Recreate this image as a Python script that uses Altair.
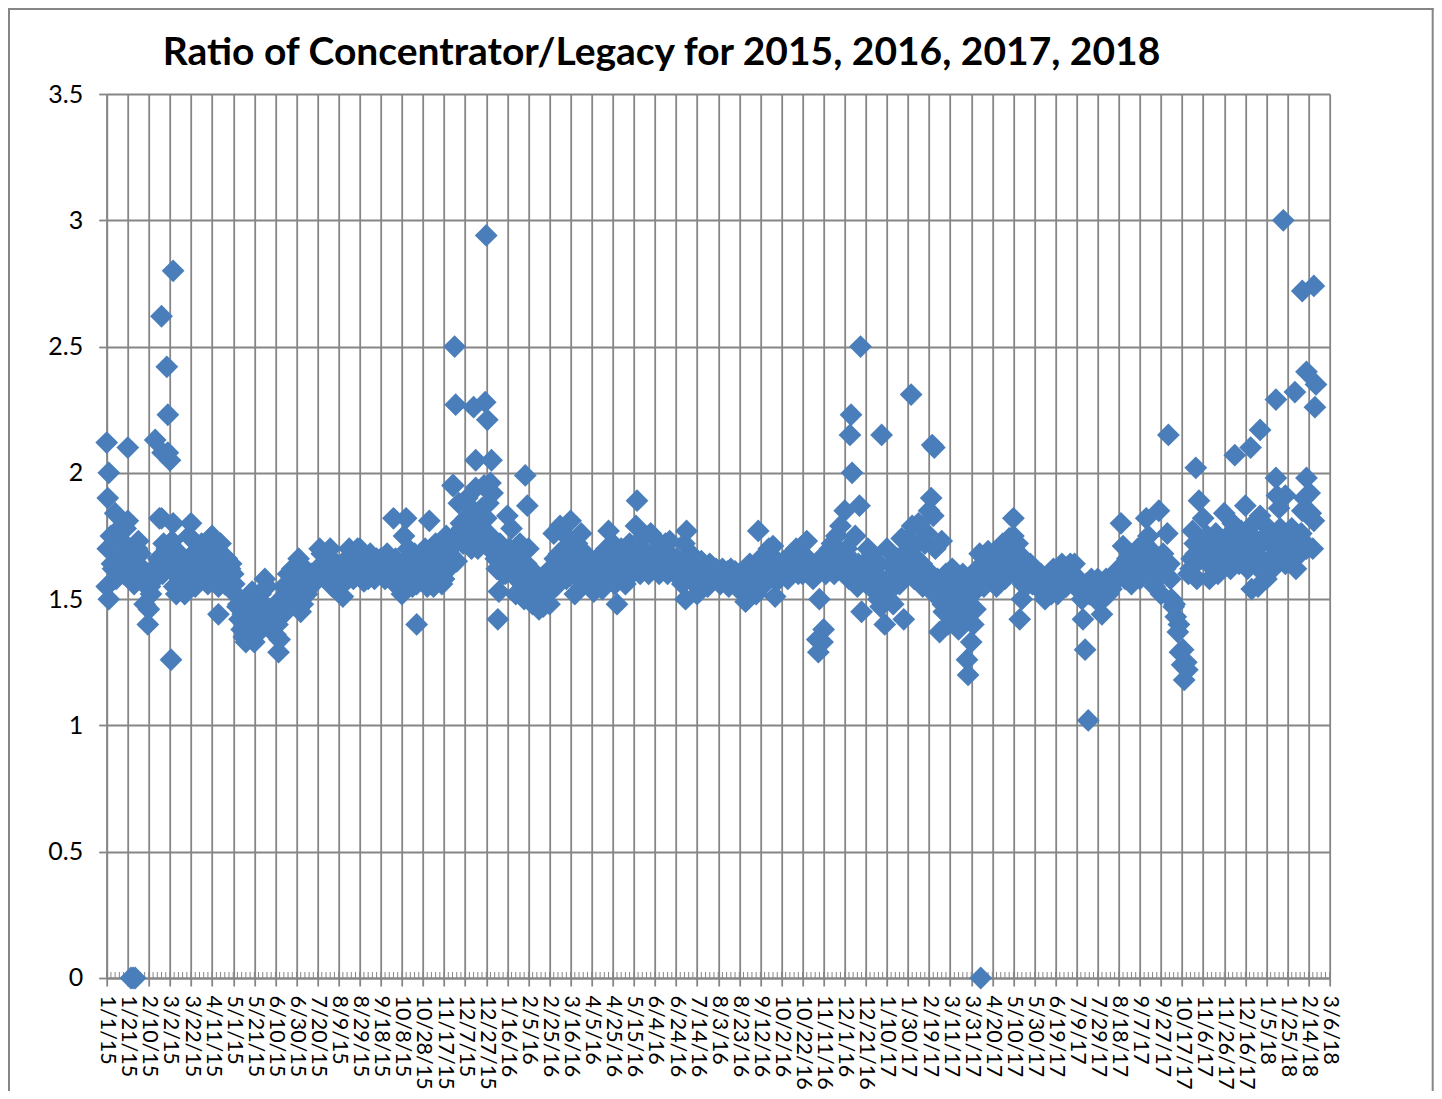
import altair as alt
import pandas as pd

TITLE = "Ratio of Concentrator/Legacy for 2015, 2016, 2017, 2018"
BLUE = "#4a7ebb"
GRID = "#868686"
FONT = "Lato"

# Ratio read every second day from 1/1/15, ten readings per 20-day axis step
band_2015 = [
    1.55,1.50,1.75,1.62,1.84,1.62,1.78,1.68,1.60,1.78,
    1.81,1.58,1.66,1.56,1.60,1.73,1.68,1.62,1.48,1.55,
    1.46,1.52,1.60,1.58,1.62,1.82,1.82,1.72,1.68,1.64,
    1.72,1.73,1.55,1.52,1.60,1.64,1.58,1.52,1.62,1.75,
    1.80,1.68,1.55,1.62,1.70,1.72,1.58,1.65,1.56,1.74,
    1.75,1.60,1.68,1.55,1.72,1.62,1.56,1.66,1.60,1.64,
    1.60,1.52,1.47,1.42,1.38,1.35,1.33,1.40,1.50,1.53,
    1.33,1.36,1.45,1.52,1.40,1.58,1.55,1.46,1.38,1.42,
    1.36,1.40,1.34,1.48,1.55,1.45,1.60,1.52,1.62,1.50,
    1.56,1.66,1.45,1.48,1.62,1.52,1.58,1.60,1.56,1.60,
    1.62,1.70,1.68,1.60,1.58,1.65,1.70,1.55,1.63,1.60,
    1.62,1.55,1.51,1.60,1.66,1.70,1.64,1.58,1.62,1.70,
    1.70,1.60,1.57,1.65,1.58,1.68,1.62,1.58,1.66,1.60,
    1.66,1.60,1.58,1.68,1.62,1.58,1.82,1.66,1.55,1.60,
    1.52,1.75,1.82,1.70,1.60,1.55,1.68,1.56,1.60,1.65,
    1.60,1.70,1.55,1.81,1.62,1.55,1.72,1.60,1.66,1.56,
    1.58,1.75,1.62,1.70,1.95,1.72,1.65,1.88,1.80,1.72,
    1.80,1.90,1.74,1.70,1.85,1.94,1.70,1.78,1.86,1.95,
]
band_2016 = [
    1.82,1.88,1.75,1.92,1.68,1.62,1.53,1.70,1.60,1.60,
    1.83,1.70,1.78,1.60,1.52,1.66,1.72,1.56,1.50,1.64,
    1.70,1.62,1.48,1.56,1.50,1.46,1.55,1.47,1.58,1.52,
    1.48,1.60,1.76,1.55,1.66,1.79,1.62,1.70,1.58,1.74,
    1.81,1.64,1.52,1.72,1.60,1.76,1.56,1.68,1.60,1.55,
    1.58,1.53,1.65,1.60,1.62,1.54,1.56,1.70,1.77,1.60,
    1.72,1.56,1.68,1.60,1.70,1.62,1.56,1.66,1.72,1.60,
    1.68,1.79,1.66,1.60,1.70,1.75,1.62,1.60,1.76,1.66,
    1.74,1.62,1.60,1.70,1.65,1.72,1.60,1.73,1.64,1.66,
    1.65,1.60,1.58,1.56,1.72,1.77,1.60,1.68,1.62,1.56,
    1.52,1.62,1.65,1.56,1.60,1.55,1.64,1.60,1.58,1.62,
    1.60,1.56,1.62,1.58,1.60,1.55,1.62,1.57,1.61,1.58,
    1.60,1.55,1.52,1.49,1.60,1.64,1.55,1.62,1.52,1.77,
    1.66,1.60,1.56,1.64,1.70,1.60,1.71,1.51,1.65,1.58,
    1.60,1.65,1.62,1.58,1.66,1.60,1.63,1.70,1.60,1.66,
    1.60,1.66,1.73,1.60,1.64,1.58,1.60,1.62,1.50,1.62,
    1.62,1.60,1.66,1.70,1.72,1.60,1.75,1.66,1.79,1.62,
    1.85,1.70,1.58,1.65,1.60,1.75,1.55,1.87,1.45,1.64,
]
band_2017 = [
    1.62,1.70,1.55,1.68,1.58,1.60,1.50,1.47,1.55,1.40,
    1.70,1.50,1.55,1.48,1.62,1.66,1.56,1.74,1.42,1.60,
    1.74,1.60,1.79,1.58,1.66,1.80,1.62,1.55,1.72,1.76,
    1.85,1.90,1.83,1.70,1.58,1.37,1.73,1.45,1.60,1.40,
    1.55,1.62,1.45,1.60,1.38,1.50,1.60,1.42,1.26,1.55,
    1.33,1.40,1.46,1.62,1.68,1.58,1.55,1.65,1.69,1.60,
    1.60,1.68,1.55,1.70,1.63,1.72,1.58,1.62,1.74,1.68,
    1.75,1.60,1.72,1.42,1.50,1.66,1.60,1.56,1.64,1.56,
    1.62,1.55,1.58,1.60,1.54,1.50,1.58,1.60,1.52,1.62,
    1.60,1.52,1.56,1.64,1.60,1.55,1.62,1.64,1.58,1.64,
    1.58,1.56,1.54,1.42,1.30,1.55,1.52,1.58,1.56,1.50,
    1.58,1.52,1.44,1.55,1.58,1.52,1.54,1.56,1.60,1.58,
    1.62,1.80,1.71,1.58,1.66,1.60,1.56,1.68,1.62,1.70,
    1.58,1.65,1.72,1.82,1.75,1.60,1.66,1.55,1.62,1.85,
    1.52,1.68,1.62,1.76,1.64,1.50,1.47,1.43,1.37,1.29,
    1.24,1.18,1.25,1.60,1.62,1.77,1.72,1.58,1.89,1.66,
    1.82,1.68,1.75,1.58,1.70,1.62,1.76,1.60,1.72,1.65,
    1.84,1.68,1.75,1.62,1.80,1.66,1.72,1.64,1.77,1.70,
]
band_2018 = [
    1.87,1.62,1.76,1.54,1.80,1.68,1.55,1.83,1.72,1.60,
    1.58,1.78,1.66,1.62,1.72,1.91,1.86,1.68,1.76,1.64,
    1.70,1.66,1.78,1.72,1.62,1.75,1.68,1.85,1.90,1.70,
]

# Odd-day readings in the middle of the band, five per 20-day axis step
mid_readings = [
    1.70,1.64,1.58,1.66,1.72,  1.64,1.60,1.70,1.62,1.58,  1.55,1.62,1.66,1.60,1.70,
    1.66,1.60,1.68,1.62,1.56,  1.66,1.60,1.70,1.64,1.62,  1.68,1.60,1.64,1.58,1.62,
    1.56,1.48,1.44,1.46,1.42,  1.46,1.42,1.48,1.40,1.44,  1.44,1.50,1.46,1.52,1.56,
    1.54,1.58,1.52,1.56,1.60,  1.60,1.64,1.60,1.66,1.62,  1.58,1.62,1.66,1.60,1.64,
    1.64,1.60,1.66,1.62,1.60,  1.62,1.66,1.60,1.64,1.62,  1.64,1.60,1.66,1.60,1.58,
    1.58,1.64,1.62,1.66,1.60,  1.66,1.68,1.72,1.76,1.78,  1.82,1.76,1.84,1.78,1.74,
    1.76,1.70,1.66,1.72,1.64,  1.68,1.62,1.58,1.64,1.60,  1.58,1.54,1.52,1.56,1.60,
    1.62,1.66,1.68,1.60,1.64,  1.66,1.62,1.68,1.60,1.64,  1.60,1.66,1.62,1.58,1.64,
    1.68,1.62,1.66,1.60,1.68,  1.64,1.70,1.62,1.66,1.68,  1.66,1.62,1.68,1.64,1.66,
    1.66,1.60,1.64,1.58,1.62,  1.62,1.58,1.60,1.62,1.60,  1.58,1.60,1.61,1.59,1.60,
    1.60,1.56,1.58,1.62,1.58,  1.60,1.64,1.62,1.58,1.64,  1.62,1.66,1.60,1.64,1.62,
    1.62,1.66,1.60,1.64,1.66,  1.64,1.68,1.62,1.70,1.66,  1.68,1.62,1.60,1.64,1.58,
    1.56,1.62,1.58,1.64,1.56,  1.58,1.64,1.56,1.62,1.66,  1.70,1.66,1.72,1.64,1.62,
    1.58,1.52,1.56,1.48,1.52,  1.56,1.48,1.52,1.46,1.50,  1.52,1.58,1.62,1.60,1.64,
    1.60,1.66,1.62,1.68,1.64,  1.66,1.60,1.56,1.62,1.58,  1.56,1.60,1.56,1.58,1.54,
    1.56,1.60,1.62,1.58,1.60,  1.54,1.50,1.56,1.52,1.54,  1.54,1.50,1.56,1.54,1.58,
    1.60,1.64,1.66,1.62,1.66,  1.62,1.68,1.70,1.64,1.66,  1.60,1.64,1.58,1.48,1.40,
    1.30,1.22,1.66,1.68,1.72,  1.70,1.64,1.72,1.66,1.70,  1.74,1.68,1.72,1.66,1.76,
    1.70,1.64,1.72,1.66,1.74,  1.74,1.66,1.70,1.78,1.72,  1.68,1.74,1.70,1.76,1.72,
]

# Readings that stand clear of the dense band
spike_days = [0,1,2,20,23,25,27,39,46,52,53,57,58,58,60,61,63,63,
              106,163,294,329,330,331,348,350,359,360,361,364,364,365,371,397,399,
              484,503,549,674,675,679,680,705,706,707,715,735,763,783,785,817,829,860,
              931,1007,1033,1070,1085,1094,1109,1109,1116,1118,1127,1134,1138,1138,
              1141,1142,1144,1145,1145,1146,1147]
spike_vals = [2.12,1.90,2.00,2.10,0,0,0,1.40,2.13,2.62,2.08,2.42,2.23,2.08,2.05,1.26,2.80,1.80,
              1.44,1.29,1.40,1.95,2.50,2.27,2.26,2.05,2.28,2.94,2.21,1.96,1.92,2.05,1.42,1.99,1.87,
              1.48,1.89,1.50,1.34,1.29,1.33,1.38,2.15,2.23,2.00,2.50,2.15,2.31,2.11,2.10,1.20,0,1.82,
              1.02,2.15,2.02,2.07,2.10,2.17,2.29,1.98,3.00,1.91,2.32,2.72,2.40,1.98,
              1.92,1.84,1.70,2.74,1.81,2.26,2.35]

x_ticks = list(range(0, 1161, 20))
minor_ticks = list(range(0, 1161, 4))
y_ticks = [0, 0.5, 1, 1.5, 2, 2.5, 3, 3.5]

band = band_2015 + band_2016 + band_2017 + band_2018
points = pd.DataFrame({
    "day": [2 * i for i in range(len(band))]
           + [4 * i + 1 for i in range(len(mid_readings))]
           + spike_days,
    "ratio": band + mid_readings + spike_vals,
})

W, H = 1223, 884
LEFT, TOP = 98.7, 86
RIGHT, BOTTOM = 104, 113
x_scale = alt.Scale(domain=[0, 1160], nice=False, zero=False)
y_scale = alt.Scale(domain=[0, 3.5], nice=False)

x_axis = alt.Axis(
    values=x_ticks, tickCount=len(x_ticks), title=None,
    grid=True, gridColor=GRID, gridWidth=1.8, gridOpacity=1,
    tickColor=GRID, tickWidth=1.8, tickSize=8, domainColor=GRID, domainWidth=1.8,
    labelAngle=90, labelAlign="left", labelBaseline="middle", labelFont=FONT, labelFontSize=21.5,
    labelColor="#000000", labelPadding=9, labelOverlap=False, labelFlush=False, labelBound=False,
    labelLimit=200,
    labelExpr="timeFormat(datetime(2015,0,1+datum.value),'%-m/%-d/%y')",
)
y_axis = alt.Axis(
    values=y_ticks, tickCount=len(y_ticks), title=None,
    grid=True, gridColor=GRID, gridWidth=1.8, gridOpacity=1,
    tickColor=GRID, tickWidth=1.8, tickSize=8, domainColor=GRID, domainWidth=1.8,
    labelFont=FONT, labelFontSize=25, labelColor="#000000", labelPadding=16, format="~g",
)

minor = alt.Chart(pd.DataFrame({"day": minor_ticks})).mark_rule(color=GRID, strokeWidth=1).encode(
    x=alt.X("day:Q", scale=x_scale, axis=x_axis),
    y=alt.Y("base:Q", scale=y_scale, axis=y_axis),
    y2=alt.value(H - 6),
).transform_calculate(base="0")

diamonds = alt.Chart(points).mark_point(
    shape="diamond", filled=True, color=BLUE, opacity=1, size=520
).encode(
    x=alt.X("day:Q", scale=x_scale),
    y=alt.Y("ratio:Q", scale=y_scale),
)

frame_left = alt.Chart(pd.DataFrame({"k": [0]})).mark_rule(color=GRID, strokeWidth=2).encode(
    x=alt.value(-LEFT + 1), y=alt.value(-TOP), y2=alt.value(H + BOTTOM))
frame_top = alt.Chart(pd.DataFrame({"k": [0]})).mark_rule(color=GRID, strokeWidth=2).encode(
    y=alt.value(-TOP + 1), x=alt.value(-LEFT), x2=alt.value(W + RIGHT))
frame_right = alt.Chart(pd.DataFrame({"k": [0]})).mark_rule(color=GRID, strokeWidth=2).encode(
    x=alt.value(W + RIGHT - 1), y=alt.value(-TOP), y2=alt.value(H + BOTTOM))

chart = alt.layer(minor, diamonds, frame_left, frame_top, frame_right).properties(
    width=W, height=H,
    padding={"left": LEFT, "top": TOP, "right": RIGHT, "bottom": BOTTOM},
    autosize=alt.AutoSizeParams(type="none"),
    title=alt.TitleParams(
        TITLE, anchor="start", frame="group", dx=56, offset=-66,
        font=FONT, fontSize=39, fontWeight="bold", color="#000000",
    ),
).configure_view(stroke=None).configure(background="#ffffff")

chart.save("out.html", embed_options={"renderer": "svg", "actions": False})
